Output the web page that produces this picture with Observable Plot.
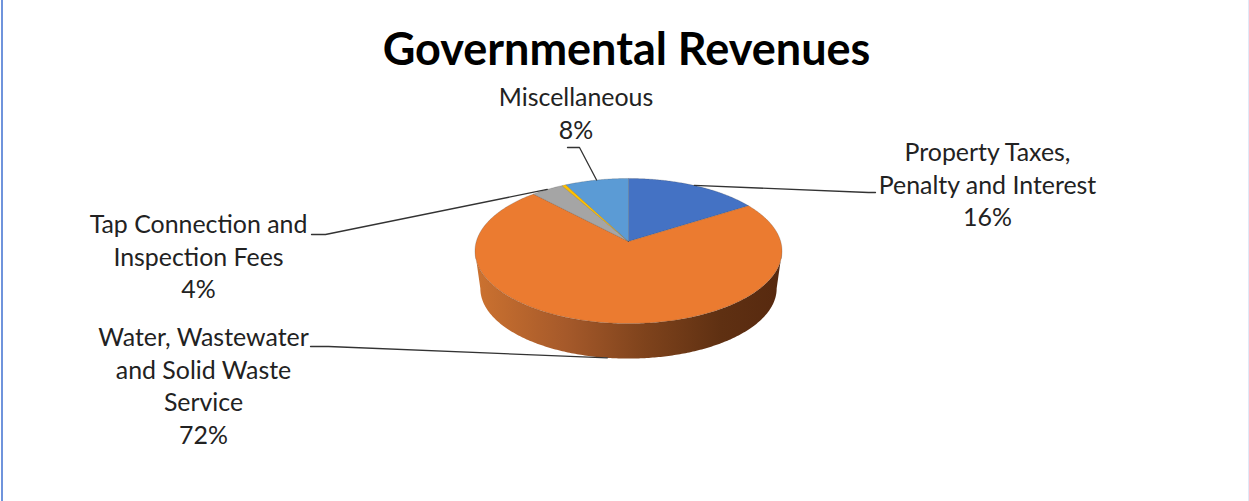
<!DOCTYPE html>
<html>
<head>
<meta charset="utf-8">
<style>
  html, body { margin: 0; padding: 0; background: #fff; }
  svg { display: block; }
</style>
<script src="https://cdn.jsdelivr.net/npm/d3@7"></script>
<script src="https://cdn.jsdelivr.net/npm/@observablehq/plot@0.6"></script>
</head>
<body>
<script>
// Revenue shares, percent of total, clockwise from twelve o'clock
const categories = ["Property Taxes,\nPenalty and Interest", "Water, Wastewater\nand Solid Waste\nService", "Tap Connection and\nInspection Fees", "Other", "Miscellaneous"];
const shares = [16, 72, 3.9, 0.5, 7.6];
const sliceColors = ["#4472c4", "#eb7b30", "#a5a5a5", "#ffc000", "#5b9bd5"];
const labelled = [true, true, true, false, true];

// Callout layout: label block centre, then the two leader bend points
const labelCenters = [[987, 184.5], [203, 385.5], [198, 256.5], null, [575.5, 113]];
const leaderBends = [[[868, 192], [875, 192]], [[328, 346], [310, 346]], [[325, 234], [311, 234]], null, [[579, 147], [567, 147]]];

// Tilted disc: homography of the unit circle, plus a slightly smaller lower rim
const view = {cx: 628, cy: 241, a: 152.2, b: 71.3, k: 0.131, depth: 35, lowerScale: 0.965};

function project(theta, lower = false) {
  const u = Math.sin(theta), v = Math.cos(theta), w = 1 + view.k * v;
  const s = lower ? view.lowerScale : 1;
  const x = view.a * u / w, y = view.b * v / w;
  const y0 = 250.5;
  if (!lower) return [view.cx + x, view.cy - y];
  const py = view.cy - y;
  return [view.cx + s * x, y0 + s * (py - y0) + 323 - (y0 + s * (323 - y0)) + view.depth];
}

// Slice polygons on the top face
const total = d3.sum(shares);
let running = 0;
const slices = shares.map((share, i) => {
  const start = running / total * 2 * Math.PI;
  running += share;
  const end = running / total * 2 * Math.PI;
  return {i, start, end, mid: (start + end) / 2};
});
const slicePoints = slices.flatMap(({i, start, end}) => {
  const steps = Math.max(2, Math.ceil((end - start) / 0.01));
  const rim = d3.range(steps + 1).map((j) => project(start + (end - start) * j / steps));
  return [[view.cx, view.cy], ...rim, [view.cx, view.cy]].map(([x, y]) => ({x, y, i}));
});

// Front wall between the widest points of the upper rim
const thetaLeft = Math.acos(-view.k), thetaRight = 2 * Math.PI - thetaLeft;
const wallThetas = d3.range(0, 241).map((j) => thetaLeft + (thetaRight - thetaLeft) * j / 240);
const wallPoints = [
  ...wallThetas.map((t) => project(t)),
  ...wallThetas.slice().reverse().map((t) => project(t, true))
].map(([x, y]) => ({x, y}));

// Leaders run from the rim at each slice's mid-angle out to its label
const leaderPoints = slices.filter(({i}) => labelled[i]).flatMap(({i, mid}) => {
  const onWall = mid > thetaLeft && mid < thetaRight;
  return [project(mid, onWall), ...leaderBends[i]].map(([x, y]) => ({x, y, i}));
});

const labels = slices.filter(({i}) => labelled[i]).map(({i}) => ({
  text: `${categories[i]}\n${Math.round(shares[i])}%`,
  x: labelCenters[i][0],
  y: labelCenters[i][1]
}));

const wallStops = [[0, "#cc7230"], [0.3, "#a5592a"], [0.55, "#7f431c"], [0.8, "#5f3012"], [1, "#57290f"]];

function wallGradient() {
  const defs = d3.create("svg:defs");
  const grad = defs.append("linearGradient").attr("id", "wall-shade");
  for (const [offset, color] of wallStops) grad.append("stop").attr("offset", offset).attr("stop-color", color);
  return defs.node();
}

const chart = Plot.plot({
  width: 1249,
  height: 501,
  margin: 0,
  x: {domain: [0, 1249], range: [0, 1249], axis: null},
  y: {domain: [0, 501], range: [0, 501], axis: null},
  marks: [
    wallGradient,
    Plot.ruleX([1.5], {stroke: "#6f94dc", strokeWidth: 2}),
    Plot.ruleX([1248.5], {stroke: "#c3d1ef", strokeWidth: 1}),
    Plot.line(wallPoints, {x: "x", y: "y", fill: "url(#wall-shade)", stroke: "none"}),
    ...slices.map(({i}) => Plot.line(slicePoints.filter((d) => d.i === i), {
      x: "x", y: "y", fill: sliceColors[i], stroke: "#3c3c3c", strokeOpacity: 0.35, strokeWidth: 0.6
    })),
    Plot.line(leaderPoints, {x: "x", y: "y", z: "i", stroke: "#333", strokeWidth: 1.3}),
    Plot.text(labels, {x: "x", y: "y", dy: -1.5, text: "text", fontFamily: "Lato", fontSize: 24.9, lineHeight: 1.305, lineAnchor: "middle", fill: "#222"}),
    Plot.text(["Governmental Revenues"], {x: () => 626, y: () => 50, fontFamily: "Lato", fontWeight: 700, fontSize: 45, lineAnchor: "middle", fill: "#000"})
  ]
});
document.body.append(chart);
</script>
</body>
</html>
